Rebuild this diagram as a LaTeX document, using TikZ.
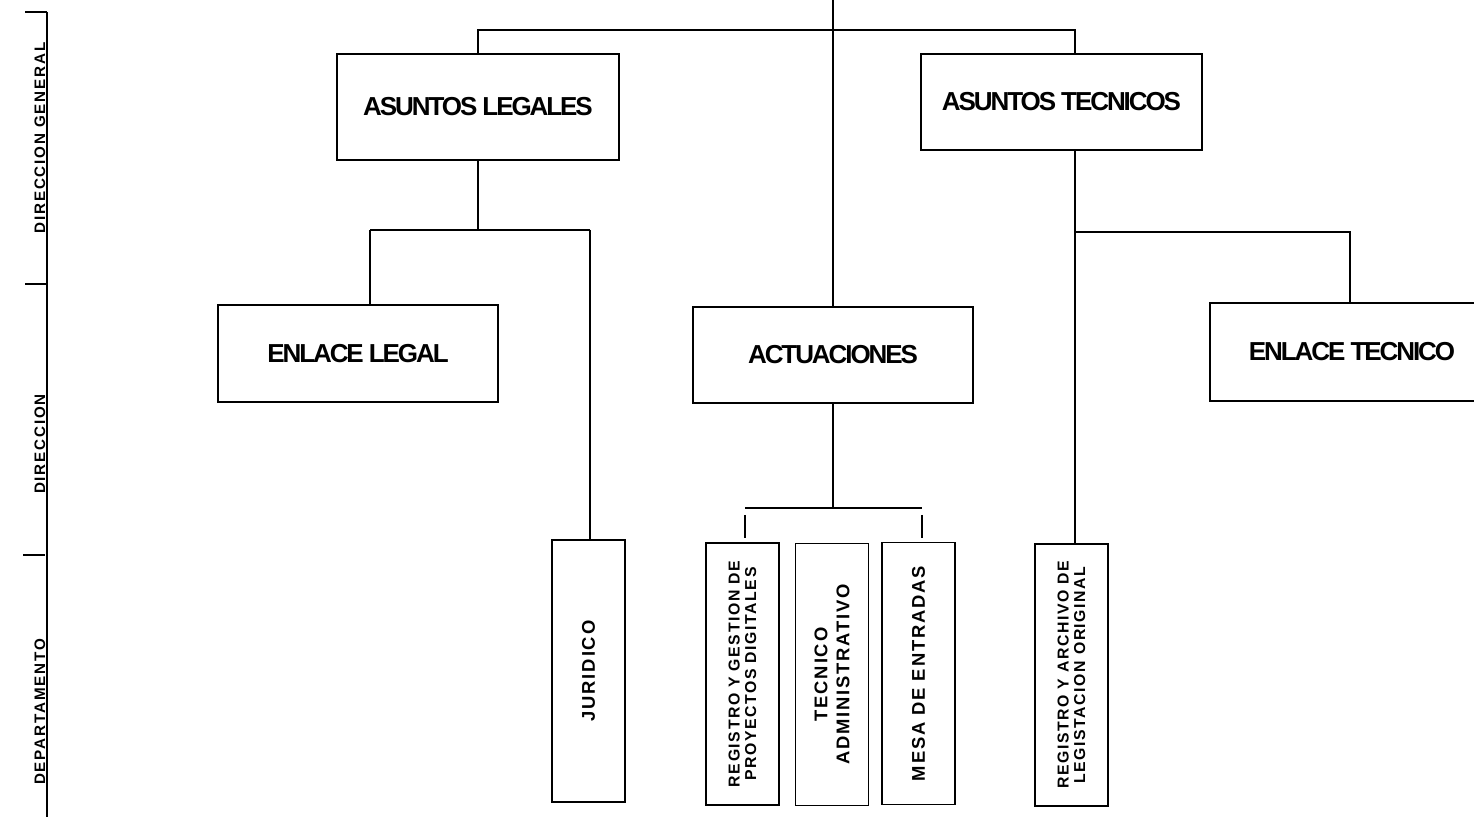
\documentclass[tikz,border=0pt]{standalone}
\usepackage{fontspec}
\setmainfont{Liberation Sans}
\newfontfamily\unitfont[LetterSpace=-8]{Liberation Sans}
\newfontfamily\deptfont[LetterSpace=10]{Liberation Sans}
\newfontfamily\axisfont[LetterSpace=12]{Liberation Sans}
\usetikzlibrary{positioning,calc}
\tikzset{
    orgchart/.style={
        x=0.5pt, y=-0.5pt,
        line width=0.9pt,
        % Cajas de las direcciones (horizontales)
        unitbox/.style={draw, rectangle, align=center,
                        font=\unitfont\fontsize{13}{15}\selectfont\bfseries,
                        inner sep=2pt},
        % Cajas de los departamentos (texto vertical)
        deptbox/.style={draw, rectangle, align=center, rotate=90,
                        minimum width=131pt, minimum height=36.5pt,
                        inner sep=1pt,
                        font=\deptfont\fontsize{7.9}{8.2}\selectfont\bfseries},
        % Departamentos con letra mayor
        deptbig/.style={deptbox,
                        font=\deptfont\fontsize{9.2}{11}\selectfont\bfseries},
        % Rotulos de los niveles (eje izquierdo)
        levellabel/.style={rotate=90,
                           font=\axisfont\fontsize{7.6}{8}\selectfont\bfseries}
    }
}
\begin{document}
\begin{tikzpicture}[orgchart]
    \useasboundingbox (0,0) rectangle (1474,817);
    % eje de niveles
    \draw (47,12) -- (47,817);
    \draw (25,12) -- (47,12);
    \draw (25,284) -- (47,284);
    \draw (23,555) -- (45,555);
    \node[levellabel] (dirGeneral) at (40,138) {DIRECCION GENERAL};
    \node[levellabel] (dir) at (40,444) {DIRECCION};
    \node[levellabel] (depto) at (40,712) {DEPARTAMENTO};

    % direcciones
    \node[unitbox, minimum width=141pt, minimum height=53pt] (asuntosLegales) at (478,107) {ASUNTOS LEGALES};
    \node[unitbox, minimum width=140.5pt, minimum height=48pt] (asuntosTecnicos) at (1061.5,102) {ASUNTOS TECNICOS};
    \node[unitbox, minimum width=140pt, minimum height=48.5pt] (enlaceLegal) at (358,353.5) {ENLACE LEGAL};
    \node[unitbox, minimum width=140pt, minimum height=48pt] (actuaciones) at (833,355) {ACTUACIONES};
    \node[unitbox, minimum width=142pt, minimum height=49pt] (enlaceTecnico) at (1352,352) {ENLACE TECNICO};

    % departamentos
    \node[deptbig] (juridico) at (588.5,671) {JURIDICO};
    \node[deptbox] (regGestion) at (742.5,674) {REGISTRO Y GESTION DE\\PROYECTOS DIGITALES};
    \node[deptbig] (tecAdmin) at (832,674.5) {TECNICO\\ADMINISTRATIVO};
    \node[deptbig] (mesa) at (918.5,673.5) {MESA DE ENTRADAS};
    \node[deptbox] (regArchivo) at (1071.5,675) {REGISTRO Y ARCHIVO DE\\LEGISTACION ORIGINAL};

    % puntos de union
    \coordinate (top) at (833,0);
    \coordinate (topbar) at (833,30);
    \coordinate (legalbar) at (370,230);
    \coordinate (juridbar) at (590,230);
    \coordinate (tecsplit) at (1075,232);
    \coordinate (tecbar) at (1350,232);
    \coordinate (actbar) at (833,508);
    \coordinate (stubL) at (745,515);
    \coordinate (stubLend) at (745,538);
    \coordinate (stubR) at (922,515);
    \coordinate (stubRend) at (922,538);

    % conectores
    \draw (top) -- (actuaciones.north);
    \draw (asuntosLegales.north) |- (topbar) -| (tecsplit |- asuntosTecnicos.north);
    \draw (asuntosLegales.south) -- (asuntosLegales.south |- legalbar);
    \draw (legalbar) -- (juridbar);
    \draw (legalbar) -- (legalbar |- enlaceLegal.north);
    \draw (juridbar) -- (juridbar |- juridico.east);
    \draw (tecsplit |- asuntosTecnicos.south) -- (tecsplit |- regArchivo.east);
    \draw (tecsplit) -- (tecbar) -- (tecbar |- enlaceTecnico.north);
    \draw (actuaciones.south) -- (actbar);
    \draw (stubL |- actbar) -- (stubR |- actbar);
    \draw (stubL) -- (stubLend);
    \draw (stubR) -- (stubRend);
\end{tikzpicture}
\end{document}
